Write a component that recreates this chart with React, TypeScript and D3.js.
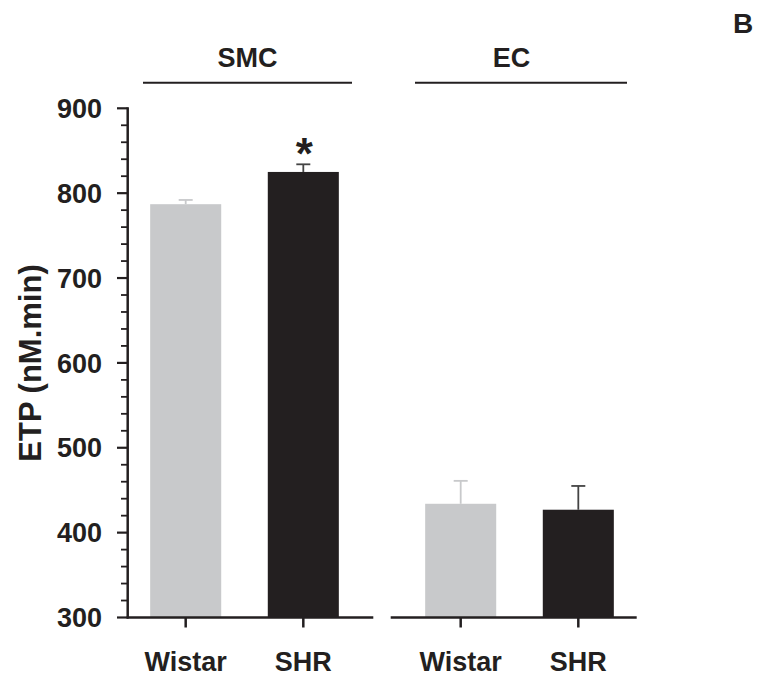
import React from "react";
import * as d3 from "d3";

const groups = ["SMC", "EC"];
const strains = ["Wistar", "SHR"];
const means = [
  [787, 825],
  [434, 427],
];
const errors = [
  [5, 9],
  [27, 28],
];
const yTicks = [300, 400, 500, 600, 700, 800, 900];
const significant = [
  [false, true],
  [false, false],
];

const W = 760;
const H = 679;
const FONT = "'Liberation Sans', Arial, Helvetica, sans-serif";
const colors: Record<string, string> = { Wistar: "#c8c9cb", SHR: "#231f20" };
const errColors: Record<string, string> = { Wistar: "#c8c9cb", SHR: "#444444" };

export default function App() {
  const y = d3.scaleLinear().domain([300, 900]).range([617.5, 108.3]);
  const outer = d3.scaleBand<string>().domain(groups).range([107, 657]).padding(0);
  const inner = d3
    .scaleBand<string>()
    .domain(strains)
    .range([0, outer.bandwidth()])
    .paddingInner(0.396)
    .paddingOuter(0.367);
  const minorTicks = d3.range(300, 901, 20).filter((v) => v % 100 !== 0);
  const axisX = 127.7;
  const axisSegments = [
    [axisX - 1, 373.3],
    [390.7, 636.7],
  ];
  const titleLines = [
    [143, 352],
    [415, 627],
  ];
  const titleX = [247.5, 511.5];

  return (
    <svg width={W} height={H} style={{ position: "absolute", left: 0, top: 0 }}>
      <rect width={W} height={H} fill="#fff" />
      {groups.map((g, gi) =>
        strains.map((s, si) => {
          const x0 = (outer(g) ?? 0) + (inner(s) ?? 0);
          const bw = inner.bandwidth();
          const cx = x0 + bw / 2;
          const v = means[gi][si];
          const e = errors[gi][si];
          return (
            <g key={g + s}>
              <line x1={cx} x2={cx} y1={y(v)} y2={y(v + e)} stroke={errColors[s]} strokeWidth={1.8} />
              <line x1={cx - 7} x2={cx + 7} y1={y(v + e)} y2={y(v + e)} stroke={errColors[s]} strokeWidth={1.8} />
              <rect x={x0} y={y(v)} width={bw} height={y(300) - y(v)} fill={colors[s]} />
              {significant[gi][si] && (
                <text x={cx + 1} y={y(v + e) + 5} textAnchor="middle" fontFamily={FONT} fontWeight="bold" fontSize={44} fill="#231f20">
                  *
                </text>
              )}
              <line x1={cx} x2={cx} y1={y(300)} y2={y(300) + 10} stroke="#231f20" strokeWidth={2.5} />
              <text x={cx} y={671} textAnchor="middle" fontFamily={FONT} fontWeight="bold" fontSize={27} fill="#231f20">
                {s}
              </text>
            </g>
          );
        })
      )}
      {axisSegments.map((seg, i) => (
        <line key={i} x1={seg[0]} x2={seg[1]} y1={y(300)} y2={y(300)} stroke="#231f20" strokeWidth={2.5} />
      ))}
      <line x1={axisX} x2={axisX} y1={y(900) - 1} y2={y(300) + 1} stroke="#231f20" strokeWidth={2.5} />
      {yTicks.map((t) => (
        <g key={t}>
          <line x1={117} x2={axisX} y1={y(t)} y2={y(t)} stroke="#231f20" strokeWidth={2.2} />
          <text x={102} y={y(t)} dy="0.36em" textAnchor="end" fontFamily={FONT} fontWeight="bold" fontSize={27} fill="#231f20">
            {t}
          </text>
        </g>
      ))}
      {minorTicks.map((t) => (
        <line key={t} x1={121} x2={axisX} y1={y(t)} y2={y(t)} stroke="#231f20" strokeWidth={1.8} />
      ))}
      <text
        transform={`translate(41,${363}) rotate(-90)`}
        textAnchor="middle"
        fontFamily={FONT}
        fontWeight="bold"
        fontSize={31}
        fill="#231f20"
      >
        ETP (nM.min)
      </text>
      {groups.map((g, gi) => (
        <g key={g}>
          <text x={titleX[gi]} y={66.5} textAnchor="middle" fontFamily={FONT} fontWeight="bold" fontSize={27} fill="#231f20">
            {g}
          </text>
          <line x1={titleLines[gi][0]} x2={titleLines[gi][1]} y1={82.7} y2={82.7} stroke="#231f20" strokeWidth={2} />
        </g>
      ))}
      <text x={743} y={33.3} textAnchor="middle" fontFamily={FONT} fontWeight="bold" fontSize={28} fill="#231f20">
        B
      </text>
    </svg>
  );
}
